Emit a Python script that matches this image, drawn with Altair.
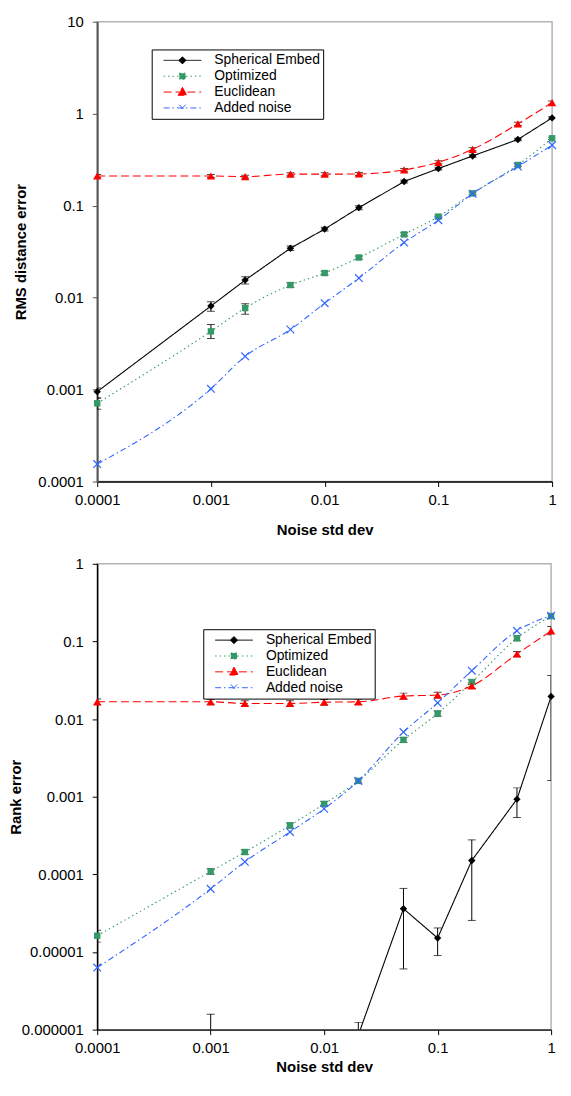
import altair as alt
import pandas as pd

# ---------------- data ----------------
noise_sd = [0.0001, 0.001, 0.002, 0.005, 0.01, 0.02, 0.05, 0.1, 0.2, 0.5, 1.0]
series_names = ["Spherical Embed", "Optimized", "Euclidean", "Added noise"]

# top panel: RMS distance error
rms_sph = [0.00095, 0.0081, 0.0155, 0.0344, 0.0556, 0.095, 0.183, 0.253, 0.347, 0.524, 0.90]
rms_sph_lo = [0.00081, 0.0071, 0.0141, 0.0325, 0.0530, 0.090, 0.176, 0.244, 0.336, 0.508, 0.875]
rms_sph_hi = [0.00104, 0.0090, 0.0169, 0.0364, 0.0582, 0.100, 0.190, 0.262, 0.358, 0.540, 0.925]
rms_opt = [0.00071, 0.0043, 0.0077, 0.0137, 0.0185, 0.0273, 0.0487, 0.076, 0.136, 0.277, 0.54]
rms_opt_lo = [0.00061, 0.0036, 0.0066, 0.0129, 0.0176, 0.0262, 0.0468, 0.073, 0.131, 0.268, 0.525]
rms_opt_hi = [0.00081, 0.0051, 0.0086, 0.0145, 0.0194, 0.0284, 0.0506, 0.079, 0.141, 0.286, 0.555]
rms_euc = [0.21, 0.21, 0.207, 0.22, 0.22, 0.221, 0.245, 0.296, 0.41, 0.775, 1.32]
rms_euc_lo = [0.202, 0.202, 0.200, 0.212, 0.212, 0.213, 0.236, 0.285, 0.395, 0.745, 1.27]
rms_euc_hi = [0.218, 0.218, 0.214, 0.228, 0.228, 0.229, 0.254, 0.307, 0.425, 0.805, 1.37]
rms_noise = [0.000155, 0.00102, 0.0023, 0.0045, 0.0087, 0.0163, 0.0397, 0.0695, 0.135, 0.266, 0.455]

# bottom panel: Rank error
rank_sph = [None, None, None, None, None, 8.5e-7, 3.61e-5, 1.51e-5, 1.51e-4, 9.3e-4, 0.0196]
rank_sph_lo = [None, 5e-7, None, None, None, 5e-7, 6.05e-6, 9.0e-6, 2.55e-5, 5.4e-4, 1.62e-3]
rank_sph_hi = [None, 1.58e-6, None, None, None, 1.24e-6, 6.59e-5, 2.04e-5, 2.78e-4, 1.30e-3, 0.0364]
rank_opt = [1.62e-5, 1.09e-4, 1.94e-4, 4.27e-4, 8.07e-4, 1.6e-3, 5.4e-3, 0.0118, 0.030, 0.110, 0.212]
rank_opt_lo = [1.34e-5, 1.0e-4, 1.8e-4, 3.95e-4, 7.5e-4, 1.5e-3, 5.0e-3, 0.0109, 0.0278, 0.102, 0.197]
rank_opt_hi = [1.90e-5, 1.18e-4, 2.08e-4, 4.6e-4, 8.7e-4, 1.7e-3, 5.8e-3, 0.0127, 0.0322, 0.118, 0.227]
rank_euc = [0.0167, 0.0167, 0.0159, 0.0159, 0.0165, 0.0167, 0.0198, 0.0204, 0.0268, 0.0689, 0.137]
rank_euc_lo = [0.0153, 0.0155, 0.0147, 0.0147, 0.0152, 0.0154, 0.0181, 0.0188, 0.0247, 0.0637, 0.122]
rank_euc_hi = [0.0182, 0.0180, 0.0172, 0.0172, 0.0179, 0.0181, 0.0216, 0.0221, 0.0291, 0.0745, 0.156]
rank_noise = [6.3e-6, 6.5e-5, 1.45e-4, 3.52e-4, 7.0e-4, 1.6e-3, 6.8e-3, 0.0162, 0.042, 0.137, 0.215]

x_ticks = [0.0001, 0.001, 0.01, 0.1, 1]
top_y_ticks = [0.0001, 0.001, 0.01, 0.1, 1, 10]
bot_y_ticks = [0.000001, 0.00001, 0.0001, 0.001, 0.01, 0.1, 1]

# ---------------- styles ----------------
F = "Liberation Sans"
colors = ["#000000", "#339966", "#FF0000", "#3366FF"]
dashes = [[1, 0], [1.5, 3], [8, 4], [6, 3, 1.5, 3]]
shapes = ["diamond", "square", "triangle-up", "M-1,-1L1,1M1,-1L-1,1"]
sizes = [55, 42, 70, 60]
filled = [True, True, True, False]
interp = ["linear", "monotone", "monotone", "monotone"]
legend_paths = [
    "M-1,0H1M0,-0.19L0.19,0L0,0.19L-0.19,0Z",
    "M-1,0H1M-0.16,-0.16H0.16V0.16H-0.16Z",
    "M-1,0H1M0,-0.25L0.23,0.17L-0.23,0.17Z",
    "M-1,0H1M-0.17,-0.17L0.17,0.17M0.17,-0.17L-0.17,0.17",
]


def build(vals, los, his):
    rows = []
    for name, v, lo, hi in zip(series_names, vals, los, his):
        for i, xv in enumerate(noise_sd):
            rows.append({
                "x": xv, "series": name,
                "val": v[i],
                "lo": None if lo is None else lo[i],
                "hi": None if hi is None else hi[i],
            })
    return pd.DataFrame(rows)


def panel(df, ytitle, ydom, yticks, w, h, lx, ly, xty, ytx, ydc, ydw):
    X = alt.X("x:Q", scale=alt.Scale(type="log", domain=[0.0001, 1], nice=False),
              axis=alt.Axis(values=x_ticks, format="~f", title="Noise std dev", grid=False,
                            labelFont=F, labelFontSize=15, labelColor="black", labelPadding=6,
                            labelFlush=False, labelOverlap=False,
                            tickSize=5, tickColor="black", tickWidth=1,
                            domainColor="black", domainWidth=1.5,
                            titleFont=F, titleFontSize=15, titleFontWeight="bold", titleColor="black",
                            titleY=xty, titleBaseline="alphabetic"))

    def Y(field):
        return alt.Y(f"{field}:Q", scale=alt.Scale(type="log", domain=ydom, nice=False),
                     axis=alt.Axis(values=yticks, format="~f", title=ytitle, grid=False,
                                   labelFont=F, labelFontSize=15, labelColor="black", labelPadding=9,
                                   labelFlush=False, labelOverlap=False,
                                   tickSize=5, tickColor=ydc, tickWidth=1,
                                   domainColor=ydc, domainWidth=ydw,
                                   titleFont=F, titleFontSize=15, titleFontWeight="bold",
                                   titleColor="black", titleX=ytx, titleY=h / 2, titleAngle=270,
                                   titleAlign="center", titleBaseline="middle"))

    layers = []
    err = df.dropna(subset=["lo", "hi"])
    be = alt.Chart(err)
    layers.append(be.mark_rule(color="black", strokeWidth=1, clip=True)
                  .encode(x=X, y=Y("lo"), y2="hi:Q"))
    layers.append(be.mark_tick(color="black", orient="horizontal", size=8, thickness=1, clip=True)
                  .encode(x=X, y=Y("lo")))
    layers.append(be.mark_tick(color="black", orient="horizontal", size=8, thickness=1, clip=True)
                  .encode(x=X, y=Y("hi")))

    for i, name in enumerate(series_names):
        d = df[df["series"] == name].dropna(subset=["val"])
        c = alt.Chart(d)
        layers.append(c.mark_line(color=colors[i], strokeDash=dashes[i], strokeWidth=1.1,
                                  interpolate=interp[i], clip=True)
                      .encode(x=X, y=Y("val")))
        # markers: only those inside the y domain (off-axis points are hidden)
        cp = alt.Chart(d[d["val"] >= ydom[0]])
        if filled[i]:
            pm = cp.mark_point(shape=shapes[i], filled=True, size=sizes[i], color=colors[i],
                               opacity=1)
        else:
            pm = cp.mark_point(shape=shapes[i], filled=False, size=sizes[i], color=colors[i],
                               strokeWidth=1.2, opacity=1)
        layers.append(pm.encode(x=X, y=Y("val")))

    leg = alt.Legend(orient="none", legendX=lx, legendY=ly, title=None,
                     strokeColor="black", fillColor="white", padding=3,
                     symbolSize=1444, symbolStrokeWidth=1, clipHeight=16, rowPadding=0,
                     labelFont=F, labelFontSize=14, labelColor="black",
                     labelOffset=12.7, symbolOffset=8.5, labelLimit=0, cornerRadius=0,
                     labelExpr="datum.label + '\u00a0\u00a0'")
    legend_layer = (alt.Chart(df).transform_filter("datum.x < 0")
                    .mark_point(filled=True, opacity=1)
                    .encode(x=X, y=Y("val"),
                            shape=alt.Shape("series:N", scale=alt.Scale(domain=series_names, range=legend_paths), legend=leg),
                            fill=alt.Fill("series:N", scale=alt.Scale(domain=series_names, range=colors), legend=leg),
                            stroke=alt.Stroke("series:N", scale=alt.Scale(domain=series_names, range=colors), legend=leg),
                            strokeDash=alt.StrokeDash("series:N", scale=alt.Scale(domain=series_names, range=dashes), legend=leg)))
    layers.append(legend_layer)
    return alt.layer(*layers).properties(width=w, height=h)


top_df = build([rms_sph, rms_opt, rms_euc, rms_noise],
               [rms_sph_lo, rms_opt_lo, rms_euc_lo, None],
               [rms_sph_hi, rms_opt_hi, rms_euc_hi, None])
bot_df = build([rank_sph, rank_opt, rank_euc, rank_noise],
               [rank_sph_lo, rank_opt_lo, rank_euc_lo, None],
               [rank_sph_hi, rank_opt_hi, rank_euc_hi, None])

top = panel(top_df, "RMS distance error", [0.0001, 10], top_y_ticks, 459, 464,
            55, 28, 53.5, -77, "#555555", 2)
bottom = panel(bot_df, "Rank error", [0.000001, 1], bot_y_ticks, 458, 470,
               107, 66, 42, -82, "black", 1.5)

chart = (alt.vconcat(top, bottom, spacing=17)
         .resolve_scale(x="independent", y="independent", shape="independent", fill="independent",
                        stroke="independent", strokeDash="independent")
         .resolve_legend(shape="independent", fill="independent", stroke="independent",
                         strokeDash="independent")
         .properties(padding={"left": 0, "top": 1, "right": 3, "bottom": 0}, background="white")
         .configure_view(stroke="#b4b4b4", strokeWidth=1.5))

chart.save("out.html", embed_options={"renderer": "svg", "actions": False})
